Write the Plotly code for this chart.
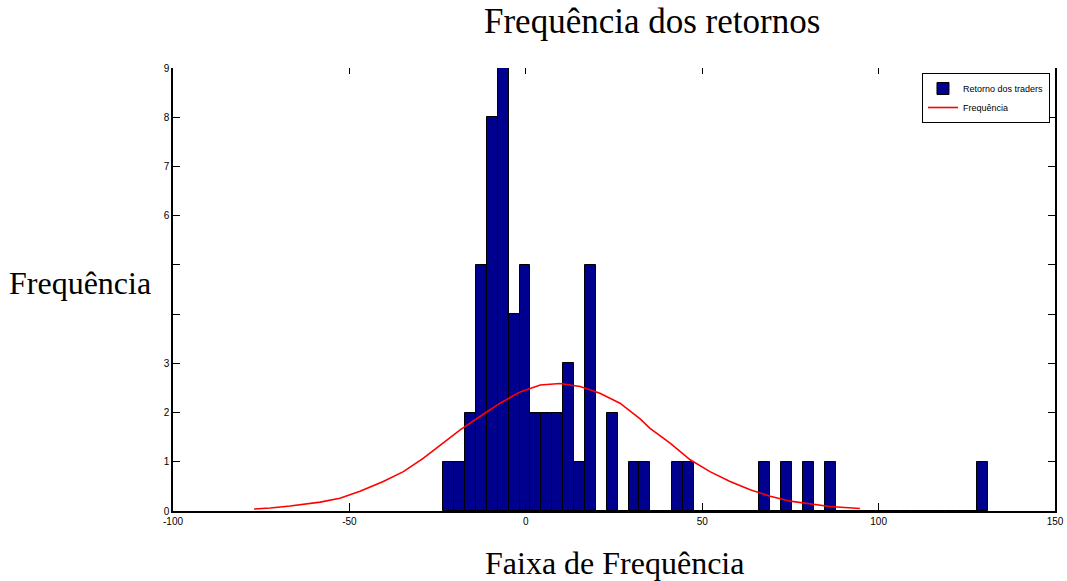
import numpy as np
import plotly.graph_objects as go

# Histogram of trader returns: 50 equal-width bins
bin_start = -23.4
bin_width = 3.09
counts = [1, 1, 2, 5, 8, 9, 4, 5, 2, 2,
          2, 3, 1, 5, 0, 2, 0, 1, 1, 0,
          0, 1, 1, 0, 0, 0, 0, 0, 0, 1,
          0, 1, 0, 1, 0, 1, 0, 0, 0, 0,
          0, 0, 0, 0, 0, 0, 0, 0, 0, 1]
bin_centers = [bin_start + bin_width * (i + 0.5) for i in range(len(counts))]

# Fitted frequency curve
curve_x = [-77.0, -72.4, -66.8, -58.3, -52.7, -47.0, -40.4, -34.7, -29.1, -24.3,
           -18.6, -13.0, -7.3, -1.6, 4.1, 9.7, 15.4, 21.0, 26.7, 32.4,
           35.2, 40.9, 46.6, 52.2, 57.9, 63.6, 69.3, 74.9, 80.6, 86.2, 94.7]
curve_y = [0.04, 0.06, 0.10, 0.18, 0.26, 0.40, 0.60, 0.80, 1.07, 1.34,
           1.65, 1.92, 2.19, 2.42, 2.56, 2.59, 2.53, 2.39, 2.19, 1.87,
           1.68, 1.38, 1.04, 0.80, 0.60, 0.43, 0.30, 0.20, 0.14, 0.09, 0.05]

x_ticks = [-100, -50, 0, 50, 100, 150]
y_ticks = [0, 1, 2, 3, 4, 5, 6, 7, 8, 9]
y_tick_text = ["0", "1", "2", "3", "", "", "6", "7", "8", "9"]

serif = "Liberation Serif"
sans = "Liberation Sans"

fig = go.Figure()
fig.add_trace(go.Bar(
    x=bin_centers, y=counts, width=bin_width,
    name="Retorno dos traders",
    marker=dict(color="#00008F", line=dict(color="black", width=1)),
))
fig.add_trace(go.Scatter(
    x=curve_x, y=curve_y, mode="lines", name="Frequência",
    line=dict(color="#FF0000", width=1.6),
))
# top axis carrying only the mirrored tick marks
fig.add_trace(go.Scatter(x=[None], y=[None], xaxis="x2", showlegend=False,
                         hoverinfo="skip"))

fig.update_layout(
    width=1067, height=581,
    margin=dict(l=173, r=12, t=68, b=70, autoexpand=False),
    paper_bgcolor="white", plot_bgcolor="white",
    bargap=0,
    showlegend=True,
    legend=dict(
        x=0.9943, y=0.9887, xanchor="right", yanchor="top",
        bgcolor="white", bordercolor="black", borderwidth=1,
        font=dict(family=sans, size=9, color="black"),
        tracegroupgap=0, itemwidth=30,
    ),
    xaxis=dict(
        range=[-100, 150], tickvals=x_ticks, ticktext=[str(v) for v in x_ticks],
        showgrid=False, zeroline=False, showline=True, linecolor="black",
        linewidth=1.5, ticks="inside", ticklen=8, tickcolor="black",
        tickfont=dict(family=sans, size=10, color="black"), mirror=False,
        automargin=False,
    ),
    xaxis2=dict(
        range=[-100, 150], overlaying="x", side="top", tickvals=x_ticks,
        showticklabels=False, showgrid=False, zeroline=False, showline=False,
        ticks="inside", ticklen=6, tickcolor="black", automargin=False,
    ),
    yaxis=dict(
        range=[0, 9], tickvals=y_ticks, ticktext=y_tick_text,
        showgrid=False, zeroline=False, showline=True, linecolor="black",
        linewidth=1.5, ticks="inside", ticklen=7, tickcolor="black",
        tickfont=dict(family=sans, size=10, color="black"), mirror="ticks",
        automargin=False,
    ),
    annotations=[
        dict(text="Frequência dos retornos", xref="paper", yref="paper",
             x=0.543, y=1.0, yshift=68, yanchor="top", showarrow=False,
             font=dict(family=serif, size=35, color="black")),
        dict(text="Faixa de Frequência", xref="paper", yref="paper",
             x=0.5, y=0, yshift=-52, yanchor="middle", showarrow=False,
             font=dict(family=serif, size=32, color="black")),
        dict(text="Frequência", xref="paper", yref="paper",
             x=-0.1054, y=0.5147, xanchor="center", yanchor="middle",
             showarrow=False, font=dict(family=serif, size=32, color="black")),
    ],
)

fig.write_html("out.html")
